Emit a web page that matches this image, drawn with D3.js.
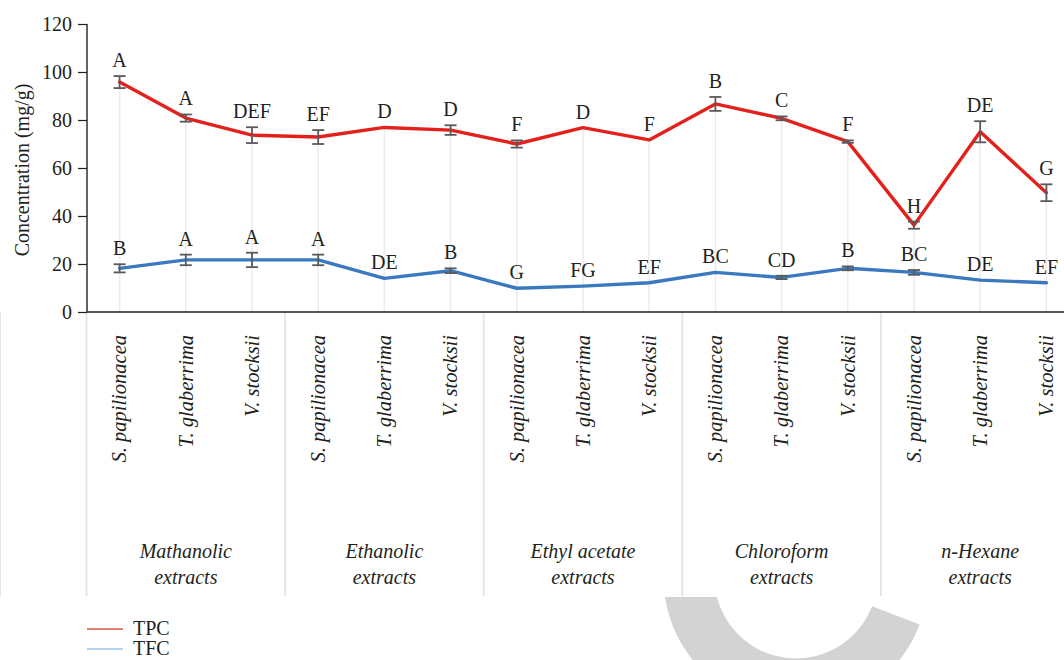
<!DOCTYPE html>
<html>
<head>
<meta charset="utf-8">
<script src="https://cdn.jsdelivr.net/npm/d3@7"></script>
<style>
  html, body { margin: 0; padding: 0; background: #fff; }
  svg { display: block; }
</style>
</head>
<body>
<svg id="chart" width="1064" height="660"></svg>
<script>
// Plant species (repeated in each extract group)
const species = ["S. papilionacea", "T. glaberrima", "V. stocksii"];
// Extract groups, each label split over two lines
const groups = [
  ["Mathanolic", "extracts"],
  ["Ethanolic", "extracts"],
  ["Ethyl acetate", "extracts"],
  ["Chloroform", "extracts"],
  ["n-Hexane", "extracts"]
];
// Total phenolic content (mg/g), error and significance letters
const tpc = [95.8, 80.8, 73.7, 72.9, 76.9, 75.8, 70.0, 76.8, 71.7, 86.7, 80.7, 71.0, 36.2, 75.1, 49.7];
const tpcErr = [2.5, 1.5, 3.3, 2.9, 0, 2.0, 1.5, 0, 0, 2.9, 0.8, 0.5, 1.5, 4.4, 3.5];
const tpcLetters = ["A", "A", "DEF", "EF", "D", "D", "F", "D", "F", "B", "C", "F", "H", "DE", "G"];
// Total flavonoid content (mg/g), error and significance letters
const tfc = [18.2, 21.7, 21.7, 21.7, 14.0, 17.2, 9.9, 10.8, 12.2, 16.5, 14.4, 18.2, 16.5, 13.3, 12.2];
const tfcErr = [1.7, 2.2, 3.0, 2.2, 0, 1.0, 0, 0, 0, 0, 0.7, 0.8, 1.0, 0, 0];
const tfcLetters = ["B", "A", "A", "A", "DE", "B", "G", "FG", "EF", "BC", "CD", "B", "BC", "DE", "EF"];
// Y axis ticks
const yTicks = [0, 20, 40, 60, 80, 100, 120];

const FONT = '"Liberation Serif", "Times New Roman", Times, serif';
const INK = "#231f20";

const categories = groups.flatMap((g, gi) => species.map((s, si) => ({ key: gi * 3 + si, species: s })));

const svg = d3.select("#chart");
const axisY = 312, axisX = 87;

const x = d3.scaleBand().domain(d3.range(categories.length)).range([86.5, 1079.5]).padding(0);
const cx = i => x(i) + x.bandwidth() / 2;
const y = d3.scaleLinear().domain([0, 120]).range([axisY, 24]);

// Publisher ring mark in the bottom area, partly hidden behind the chart area
svg.append("clipPath").attr("id", "ringClip")
  .append("rect").attr("x", 0).attr("y", 597).attr("width", 1064).attr("height", 63);
svg.append("g")
  .attr("clip-path", "url(#ringClip)")
  .append("path")
  .attr("transform", "translate(796,577)")
  .attr("d", d3.arc().innerRadius(81.5).outerRadius(132.5)
    .startAngle(111 * Math.PI / 180).endAngle(330 * Math.PI / 180)())
  .attr("fill", "#d3d3d3");

// Group separators below the axis
const sepXs = d3.range(groups.length + 1).map(g => x(g * 3));
svg.append("g").selectAll("line").data(sepXs).join("line")
  .attr("x1", d => d).attr("x2", d => d)
  .attr("y1", axisY).attr("y2", 596)
  .attr("stroke", "#e6e6e6").attr("stroke-width", 2);

// Drop lines from the upper series to the axis
svg.append("g").selectAll("line").data(tpc).join("line")
  .attr("x1", (d, i) => cx(i)).attr("x2", (d, i) => cx(i))
  .attr("y1", d => y(d)).attr("y2", axisY)
  .attr("stroke", "#ececec").attr("stroke-width", 1.6);

// Y axis
const yAxis = svg.append("g").attr("transform", `translate(${axisX},0)`)
  .call(d3.axisLeft(y).tickValues(yTicks).tickSize(9).tickPadding(6))
  .attr("font-family", FONT).attr("font-size", 20);
yAxis.select(".domain").attr("stroke", INK).attr("stroke-width", 1.4).attr("d", `M0,${y(120)}V${axisY}`);
yAxis.selectAll(".tick line").attr("stroke", INK).attr("stroke-width", 1.2);
yAxis.selectAll(".tick text").attr("fill", INK);

// X axis baseline
svg.append("line")
  .attr("x1", axisX).attr("x2", 1064).attr("y1", axisY).attr("y2", axisY)
  .attr("stroke", INK).attr("stroke-width", 1.6);

// Y axis title
svg.append("text")
  .attr("transform", "translate(29,170) rotate(-90)")
  .attr("text-anchor", "middle")
  .attr("font-family", FONT).attr("font-size", 20).attr("fill", INK)
  .text("Concentration (mg/g)");

// Species labels, rotated
svg.append("g").selectAll("text").data(categories).join("text")
  .attr("transform", d => `translate(${cx(d.key)},335) rotate(-90)`)
  .attr("text-anchor", "end")
  .attr("dy", "0.33em")
  .attr("font-family", FONT).attr("font-style", "italic").attr("font-size", 20.5).attr("fill", INK)
  .text(d => d.species);

// Group labels
const gl = svg.append("g").selectAll("text").data(groups).join("text")
  .attr("text-anchor", "middle")
  .attr("font-family", FONT).attr("font-style", "italic").attr("font-size", 20).attr("fill", INK);
gl.each(function (d, gi) {
  const t = d3.select(this);
  const gx = (cx(gi * 3) + cx(gi * 3 + 2)) / 2;
  d.forEach((line, li) => {
    t.append("tspan").attr("x", gx).attr("y", 558 + li * 26).text(line);
  });
});

// Series drawing: line, error bars, letter labels
function drawSeries(vals, errs, letters, color) {
  const g = svg.append("g");
  g.append("path")
    .datum(vals)
    .attr("d", d3.line().x((d, i) => cx(i)).y(d => y(d)))
    .attr("fill", "none").attr("stroke", color).attr("stroke-width", 3.4)
    .attr("stroke-linejoin", "round").attr("stroke-linecap", "round");
  const eb = g.append("g").selectAll("g").data(vals.map((v, i) => ({ v, e: errs[i], i })).filter(d => d.e > 0)).join("g")
    .attr("stroke", "#5a5a5a").attr("stroke-width", 1.8);
  eb.append("line").attr("x1", d => cx(d.i)).attr("x2", d => cx(d.i))
    .attr("y1", d => y(d.v + d.e)).attr("y2", d => y(d.v - d.e));
  eb.append("line").attr("x1", d => cx(d.i) - 6).attr("x2", d => cx(d.i) + 6)
    .attr("y1", d => y(d.v + d.e)).attr("y2", d => y(d.v + d.e));
  eb.append("line").attr("x1", d => cx(d.i) - 6).attr("x2", d => cx(d.i) + 6)
    .attr("y1", d => y(d.v - d.e)).attr("y2", d => y(d.v - d.e));
  g.append("g").selectAll("text").data(vals).join("text")
    .attr("x", (d, i) => cx(i))
    .attr("y", (d, i) => y(d + errs[i]) - 9)
    .attr("text-anchor", "middle")
    .attr("font-family", FONT).attr("font-size", 20).attr("fill", INK)
    .text((d, i) => letters[i]);
}
drawSeries(tpc, tpcErr, tpcLetters, "#e3211c");
drawSeries(tfc, tfcErr, tfcLetters, "#3a78bf");

// Legend
const legend = [
  { name: "TPC", color: "#d9573f" },
  { name: "TFC", color: "#9fc3e7" }
];
const lg = svg.append("g").selectAll("g").data(legend).join("g")
  .attr("transform", (d, i) => `translate(87,${629 + i * 20})`);
lg.append("line").attr("x1", 0).attr("x2", 36).attr("y1", 0).attr("y2", 0)
  .attr("stroke", d => d.color).attr("stroke-width", 1.4);
lg.append("text").attr("x", 46).attr("y", 6)
  .attr("font-family", FONT).attr("font-size", 20).attr("fill", INK)
  .text(d => d.name);
</script>
</body>
</html>
